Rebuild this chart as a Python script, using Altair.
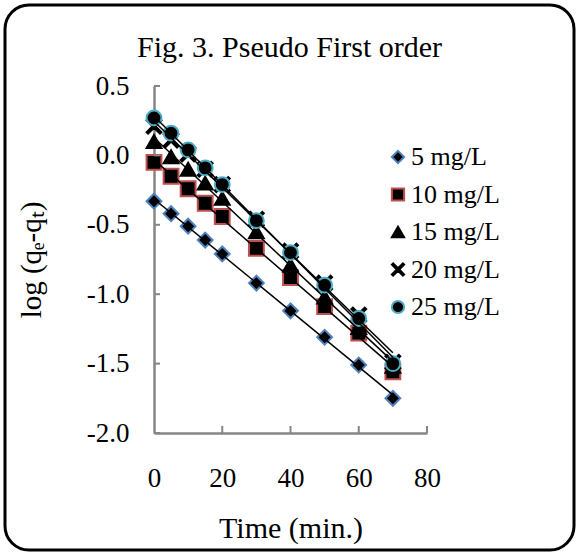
import altair as alt
import pandas as pd

# ---- data ----
time_min = [0, 5, 10, 15, 20, 30, 40, 50, 60, 70]
series_names = ["5 mg/L", "10 mg/L", "15 mg/L", "20 mg/L", "25 mg/L"]
log_5 = [-0.33, -0.42, -0.51, -0.61, -0.71, -0.92, -1.12, -1.31, -1.51, -1.75]
log_10 = [-0.05, -0.15, -0.24, -0.345, -0.44, -0.67, -0.88, -1.09, -1.28, -1.56]
log_15 = [0.10, -0.01, -0.10, -0.20, -0.31, -0.55, -0.79, -1.02, -1.24, -1.52]
log_20 = [0.21, 0.11, 0.01, -0.10, -0.21, -0.46, -0.69, -0.92, -1.15, -1.49]
log_25 = [0.27, 0.16, 0.04, -0.09, -0.21, -0.47, -0.70, -0.935, -1.175, -1.50]
x_ticks = [0, 20, 40, 60, 80]
y_ticks = [-2.0, -1.5, -1.0, -0.5, 0.0, 0.5]
chart_title = "Fig. 3. Pseudo First order"

rows = []
for name, vals in zip(series_names, [log_5, log_10, log_15, log_20, log_25]):
    for t, v in zip(time_min, vals):
        rows.append({"time": t, "value": v, "series": name})
df = pd.DataFrame(rows)

W, H = 273, 347
FONT = "Liberation Serif"
GRAY = "#868686"

xs = alt.Scale(domain=[0, 80], nice=False, zero=False)
ys = alt.Scale(domain=[-2.0, 0.5], nice=False, zero=False)

# bold "x" marker as a filled polygon
X_PATH = ("M-1,-0.8L-0.8,-1L0,-0.2L0.8,-1L1,-0.8L0.2,0L1,0.8L0.8,1"
          "L0,0.2L-0.8,1L-1,0.8L-0.2,0Z")
shape_scale = alt.Scale(domain=series_names,
                        range=["diamond", "square", "triangle-up", X_PATH, "circle"])
stroke_scale = alt.Scale(domain=series_names,
                         range=["#4F81BD", "#C0504D", "#000000", "#000000", "#4BACC6"])

legend = alt.Legend(title=None, orient="none", legendX=231, legendY=58,
                    labelFont=FONT, labelFontSize=26, labelColor="black",
                    labelOffset=0, rowPadding=11.5, padding=0,
                    symbolSize=150, symbolStrokeWidth=2,
                    symbolFillColor="black")

x_axis = alt.Axis(values=x_ticks, title="Time (min.)", grid=False, ticks=False,
                  labelFont=FONT, labelFontSize=27, labelColor="black",
                  labelPadding=32, labelFlush=False,
                  titleFont=FONT, titleFontSize=30, titleFontWeight="normal",
                  titleColor="black", titlePadding=22,
                  domainColor=GRAY, domainWidth=2.5)
y_axis = alt.Axis(values=y_ticks, title="log (qₑ-qₜ)", grid=False, ticks=False,
                  labelExpr="datum.value < 0 ? '-' + format(-datum.value, '.1f') : format(datum.value, '.1f')",
                  labelFont=FONT, labelFontSize=27, labelColor="black",
                  labelPadding=25, labelFlush=False,
                  titleFont=FONT, titleFontSize=29, titleFontWeight="normal",
                  titleColor="black", titlePadding=40,
                  domainColor=GRAY, domainWidth=2.5)

deco = alt.Data(values=[{"label": chart_title}])

border = alt.Chart(deco).mark_rect(
    fill="transparent", fillOpacity=0, stroke="black", strokeWidth=3, cornerRadius=24
).encode(x=alt.value(-149), x2=alt.value(420), y=alt.value(-81), y2=alt.value(464))

title_text = alt.Chart(deco).mark_text(
    font=FONT, fontSize=30, color="black", align="center", baseline="middle"
).encode(x=alt.value(W / 2 - 1), y=alt.value(-38), text="label:N")

ytick_df = pd.DataFrame({"v": y_ticks})
yticks = alt.Chart(ytick_df).mark_rule(color=GRAY, strokeWidth=2).encode(
    y=alt.Y("v:Q", scale=ys, axis=y_axis), x=alt.value(0), x2=alt.value(6))
xtick_df = pd.DataFrame({"t": x_ticks[1:]})
xticks = alt.Chart(xtick_df).mark_rule(color=GRAY, strokeWidth=2).encode(
    x=alt.X("t:Q", scale=xs, axis=x_axis), y=alt.value(H), y2=alt.value(H - 7))

points = alt.Chart(df).mark_point(fill="black", fillOpacity=1, strokeWidth=2,
                                  opacity=1, size=220).encode(
    x=alt.X("time:Q", scale=xs, axis=x_axis),
    y=alt.Y("value:Q", scale=ys, axis=y_axis),
    shape=alt.Shape("series:N", scale=shape_scale, legend=legend),
    stroke=alt.Stroke("series:N", scale=stroke_scale, legend=legend),
)

lines = alt.Chart(df).transform_regression(
    "time", "value", groupby=["series"], extent=[0, 70]
).mark_line(color="black", strokeWidth=1.5).encode(
    x=alt.X("time:Q", scale=xs, axis=x_axis),
    y=alt.Y("value:Q", scale=ys, axis=y_axis),
    detail="series:N",
)

chart = alt.layer(points, lines, yticks, xticks, title_text, border).properties(
    width=W, height=H,
    autosize="none",
    padding={"left": 154, "top": 86, "right": 151, "bottom": 123},
).configure(background="white").configure_view(stroke=None)

chart.save("out.html", embed_options={"renderer": "svg", "actions": False})
